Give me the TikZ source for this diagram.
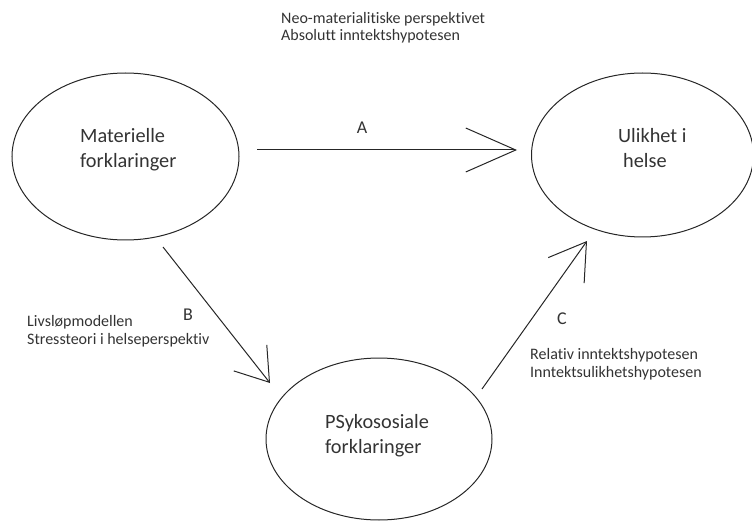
\documentclass[tikz,border=0pt]{standalone}
\usepackage{fontspec}
\setmainfont{Carlito}[Ligatures={NoCommon}]
\usetikzlibrary{arrows.meta,shapes.geometric}
\definecolor{txt}{HTML}{333333}
\tikzset{
  oval/.style={draw=black!85, line width=1pt, ellipse, inner sep=0pt},
  big/.style={font=\fontsize{20.3}{25}\selectfont, text=txt, align=left, anchor=base west, inner sep=0pt},
  small/.style={font=\fontsize{16}{17.5}\selectfont, text=txt, align=left, anchor=base west, inner sep=0pt},
  letter/.style={font=\fontsize{18}{20}\selectfont, text=txt, inner sep=0pt},
  conn/.style={draw=black!85, line width=1pt},
}
\begin{document}
\begin{tikzpicture}[x=1pt,y=-1pt]
\useasboundingbox (0,0) rectangle (752,521);
% ellipses
\node[oval, minimum width=227pt, minimum height=167pt] (mat) at (125.5,156.5) {};
\node[oval, minimum width=222pt, minimum height=164pt] (uli) at (642.5,155) {};
\node[oval, minimum width=226pt, minimum height=162pt] (psy) at (379,439) {};
% labels (anchor = baseline of last line)
\node[big] (matt) at (80,168) {Materielle\\forklaringer};
\node[big] (ulit) at (618,168) {Ulikhet i\\\hspace*{5pt}helse};
\node[big] (psyt) at (325,453) {PSykososiale\\forklaringer};
% connector end points
\coordinate (a0) at (257,150);
\coordinate (a1) at (517,150);
\coordinate (b0) at (163,247);
\coordinate (b1) at (270,383);
\coordinate (c0) at (482,389);
\coordinate (c1) at (587,241);
\draw[conn, -{Straight Barb[length=50pt,width=44pt,line width=1pt]}] (a0) -- (a1);
\draw[conn, -{Straight Barb[length=31pt,width=42pt,line width=1pt]}] (b0) -- (b1);
\draw[conn, -{Straight Barb[length=35pt,width=44pt,line width=1pt]}] (c0) -- (c1);
% letters
\node[letter] (la) at (362,128) {A};
\node[letter] (lb) at (188,315) {B};
\node[letter] (lc) at (562,319) {C};
% side texts
\node[small] (ta) at (281,41) {Neo-materialitiske perspektivet\\Absolutt inntektshypotesen};
\node[small] (tb) at (27,344) {Livsløpmodellen\\Stressteori i helseperspektiv};
\node[small] (tc) at (530,377) {Relativ inntektshypotesen\\Inntektsulikhetshypotesen};
\end{tikzpicture}
\end{document}
